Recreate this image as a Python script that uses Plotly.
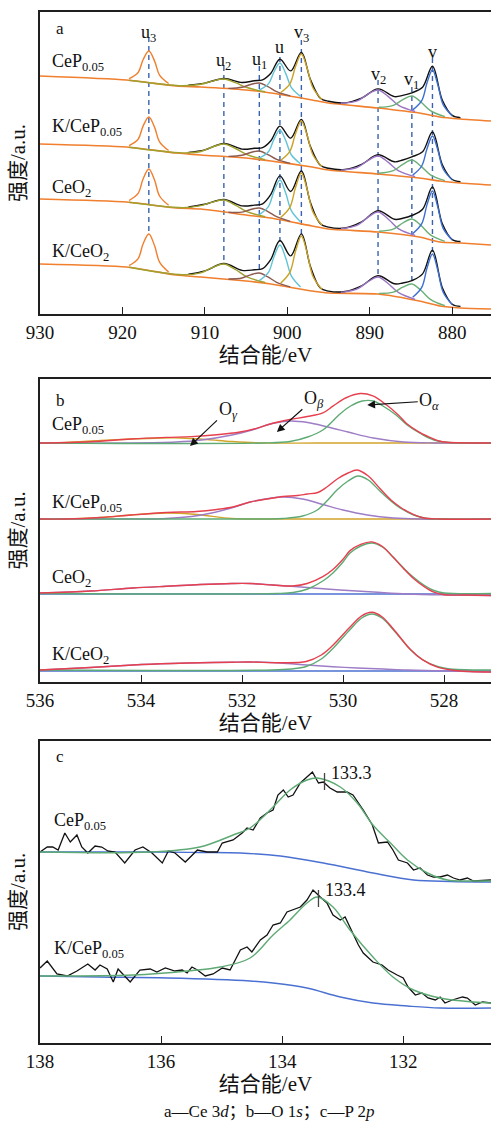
import plotly.graph_objects as go

# ================= Panel a : Ce 3d =================
A_SAMPLES = ["CeP<sub>0.05</sub>", "K/CeP<sub>0.05</sub>", "CeO<sub>2</sub>", "K/CeO<sub>2</sub>"]
A_TICKS = [930, 920, 910, 900, 890, 880]

A_BG_X = [930, 919.5, 913.5, 910.5, 905, 902, 897, 895, 889, 884, 881.5, 879, 875.3]
A_BG_CEP = [238, 234, 228, 227, 224, 221, 214, 211, 206, 201, 197, 195, 193]
A_BG_KCEP = [170, 167, 161, 159, 156, 153, 147, 144, 140, 136, 133, 131, 129]
A_BG_CEO2 = [115, 112, 106, 105, 99, 96, 88, 85, 82, 77, 72, 71, 69]
A_BG_KCEO2 = [50, 47, 39, 37, 33, 30, 23, 21, 20, 13, 8, 6, 5]

A_U3_X = [919.2, 918.1, 917.5, 916.8, 916.1, 915.5, 914.4]
A_U2_X = [919.2, 912.7, 910.5, 909.1, 907.7, 906.3, 904.9, 902.7]
A_U1_X = [907.15, 905.5, 904.45, 903.4, 902.35, 901.3, 899.65]
A_U_X = [903.4, 902.3, 901.6, 900.9, 900.2, 899.5, 898.4]
A_V3_X = [900.8, 899.7, 899.0, 898.3, 897.6, 896.9, 895.8]
A_V2_X = [893.5, 891.5, 890.25, 889.0, 887.75, 886.5, 884.5]
A_V1_X = [888.9, 887.15, 886.0, 884.9, 883.8, 882.65, 880.9]
A_V_X = [884.8, 883.7, 883.05, 882.4, 881.75, 881.1, 880.0]
A_ENV_X = [912, 910, 907.7, 905.5, 904, 903, 902, 900.9, 899.6, 898.3, 897.2, 896, 895,
           893, 891, 889, 887, 886, 884.9, 883.6, 882.4, 881.2, 880, 879]

A_CEP_U3 = [235.3, 241.5, 254.2, 263, 252.9, 238.9, 230.5]
A_CEP_U2 = [233.7, 228.2, 229.7, 232.9, 235, 231.4, 226.5, 222.2]
A_CEP_U1 = [225.6, 226.7, 229.5, 231, 227.4, 222.4, 218.1]
A_CEP_U = [224, 230.1, 242.5, 251, 240.6, 226.3, 217.5]
A_CEP_V3 = [221.5, 230.1, 247.7, 260, 245.8, 226.2, 214.4]
A_CEP_V2 = [210.7, 213.1, 219.7, 224, 217.4, 208.6, 202.5]
A_CEP_V1 = [206.7, 208.7, 214.3, 218, 212, 203.4, 197.3]
A_CEP_V = [204.1, 213.4, 231.4, 244, 229.3, 209.4, 198.1]
A_CEP_ENV = [228.8, 230.9, 235.5, 231.5, 233.3, 234.2, 240.8, 254.8, 243.1, 261.6, 234.4, 215.8, 212.7,
             211.1, 215.9, 225.1, 217.4, 218.6, 221.2, 226.8, 247.8, 213.7, 198.6, 196.4]

A_KCEP_U3 = [168.4, 174.8, 187.9, 197, 186.6, 172.2, 163.5]
A_KCEP_U2 = [166.7, 161.1, 162.5, 167, 170, 165.5, 159.4, 154.3]
A_KCEP_U1 = [157.6, 158.7, 161.5, 163, 159.4, 154.6, 150.6]
A_KCEP_U = [156, 162.3, 175.2, 184, 173.5, 159, 150.3]
A_KCEP_V3 = [153.8, 162.7, 180.5, 193, 178.8, 159.3, 147.4]
A_KCEP_V2 = [143.9, 146.7, 153.4, 158, 151.6, 143.1, 137.4]
A_KCEP_V1 = [140.8, 143.4, 149.7, 154, 147.9, 139.2, 133.4]
A_KCEP_V = [138.9, 148, 165.6, 178, 164, 145, 134]
A_KCEP_ENV = [161.5, 164.1, 170.5, 164.9, 165.7, 166.4, 173.3, 187.9, 175.9, 194.6, 167.4, 148.8, 145.7,
              144.5, 149.6, 159.2, 152.2, 154, 157.2, 162.2, 182, 149.2, 134.5, 132.4]

A_CEO2_U3 = [113.5, 120.6, 135, 145, 133.7, 118, 108.7]
A_CEO2_U2 = [111.7, 106.3, 108.4, 111.9, 114, 108.9, 102.3, 97.3]
A_CEO2_U1 = [101.8, 101.9, 104.5, 106, 102.4, 97.3, 92.7]
A_CEO2_U = [99.4, 107.4, 123.2, 134, 120.9, 103.1, 92.2]
A_CEO2_V3 = [96.6, 106.6, 126.8, 141, 124.6, 102.1, 88.8]
A_CEO2_V2 = [85.3, 88.9, 96.6, 102, 94.8, 85.1, 78.6]
A_CEO2_V1 = [82.7, 84.9, 91, 95, 88.6, 79.1, 72.6]
A_CEO2_V = [80.3, 90.3, 109.6, 123, 106.9, 85.6, 73.9]
A_CEO2_ENV = [107, 109.7, 114.5, 108.1, 108.9, 110.2, 119.6, 138.1, 122.5, 143, 111.5, 90.3, 86.9,
              86, 92.1, 103.2, 94.7, 95.7, 98.5, 104.7, 127, 90.2, 74.4, 72.5]

A_KCEO2_U3 = [48.5, 55.4, 70, 80, 68.2, 51.9, 42]
A_KCEO2_U2 = [46.7, 39.2, 41.2, 46.5, 50, 44.5, 37.1, 31.5]
A_KCEO2_U1 = [35, 36, 39.2, 41, 37.1, 31.7, 27.2]
A_KCEO2_U = [33.4, 41.6, 57.8, 69, 55.9, 37.8, 27]
A_KCEO2_V3 = [31, 41.7, 63, 78, 61.1, 37.8, 24.5]
A_KCEO2_V2 = [21.6, 25.2, 32.1, 37, 30.2, 21.3, 14.6]
A_KCEO2_V1 = [20.6, 21.8, 26.8, 30, 23.7, 14.7, 8.3]
A_KCEO2_V = [16.7, 26.6, 46.3, 60, 43.6, 21.7, 9.3]
A_KCEO2_ENV = [39.8, 43.1, 50.5, 43.6, 44.2, 45.4, 54.7, 73.5, 58.1, 80.1, 47.5, 25.9, 22.9,
               22.5, 28.2, 38.2, 30.2, 31, 33.4, 40.1, 63.7, 26.3, 9.8, 7.6]

A_PEAK_NAMES = ["u<sub>3</sub>", "u<sub>2</sub>", "u<sub>1</sub>", "u",
                "v<sub>3</sub>", "v<sub>2</sub>", "v<sub>1</sub>", "v"]
A_PEAK_POS = [916.8, 907.7, 903.4, 900.9, 898.3, 889.0, 884.9, 882.4]
A_PEAK_LINE_TOP = [277, 248, 248, 257, 274, 234, 227, 256]
A_PEAK_LINE_BOTTOM = [80, 50, 41, 69, 78, 37, 30, 60]

# ================= Panel b : O 1s =================
B_SAMPLES = ["CeP<sub>0.05</sub>", "K/CeP<sub>0.05</sub>", "CeO<sub>2</sub>", "K/CeO<sub>2</sub>"]
B_TICKS = [536, 534, 532, 530, 528]

B_CEP_GOLD_X = [536, 535.5, 534.8, 534.2, 533.6, 533.2, 532.7, 532.2, 531.6, 530.5, 529, 527.07]
B_CEP_GOLD_Y = [239, 239.5, 241.5, 243, 244, 244, 242.5, 240.5, 239, 239, 239, 239]
B_CEP_PURPLE_X = [536, 534.3, 533.3, 532.8, 532.2, 531.8, 531.4, 531.05, 530.7, 530.3, 529.9, 529.4, 528.8, 528.2, 527.07]
B_CEP_PURPLE_Y = [239, 239, 240, 242, 247, 252, 258.5, 261, 259.5, 255, 250, 244, 240, 239, 239]
B_CEP_GREEN_X = [536, 531.6, 531.05, 530.7, 530.4, 530.06, 529.85, 529.62, 529.4, 529.21, 528.95, 528.73, 528.45, 528.2, 527.9, 527.07]
B_CEP_GREEN_Y = [239, 239, 240.5, 245, 252, 268, 276, 281, 281, 276, 267, 257, 248, 242, 239.5, 239]
B_CEP_RED_X = [536, 535, 534.2, 533.5, 533, 532.5, 532.04, 531.7, 531.39, 531.05, 530.71, 530.4, 530.2,
               529.95, 529.66, 529.41, 529.13, 528.9, 528.73, 528.5, 528.34, 528.1, 527.94, 527.07]
B_CEP_RED_Y = [239, 240.3, 243, 244.6, 245.4, 247.2, 250, 253.9, 258.8, 262.5, 265.5, 269.1, 275.8,
               284, 288.5, 286.1, 276.7, 266.8, 258, 250.1, 246, 241, 239.7, 239]

B_KCEP_GOLD_X = [536, 535.5, 534.8, 534.2, 533.5, 532.9, 532.2, 531.5, 530, 527.07]
B_KCEP_GOLD_Y = [163, 163, 164.5, 167, 169, 167.5, 163.5, 163, 163, 163]
B_KCEP_PURPLE_X = [536, 534, 533.5, 533, 532.6, 532.18, 531.8, 531.19, 530.8, 530.4, 530, 529.52, 529, 528.5, 527.07]
B_KCEP_PURPLE_Y = [163, 163, 163.5, 165.5, 169, 174.5, 180.5, 185, 183, 177.5, 172, 167, 164, 163, 163]
B_KCEP_GREEN_X = [536, 531.5, 531.19, 530.8, 530.51, 530.3, 530.12, 529.9, 529.7, 529.5, 529.27, 529.05, 528.87, 528.6, 528.34, 528, 527.07]
B_KCEP_GREEN_Y = [163, 163, 163.5, 166, 172, 182, 192, 201, 206, 202, 191, 181, 174, 167, 163.5, 163, 163]
B_KCEP_RED_X = [536, 535.5, 534.8, 534.2, 533.49, 532.9, 532.5, 532.18, 531.84, 531.5, 531.19, 530.9, 530.71,
                530.5, 530.32, 530.1, 529.9, 529.72, 529.5, 529.27, 529.05, 528.87, 528.6, 528.4, 528.08, 527.07]
B_KCEP_RED_Y = [163, 163, 164.5, 167, 169.5, 170.5, 172.5, 175, 180, 183, 185.5, 186.5, 188,
                189.5, 195, 203.5, 209, 212, 206, 193.5, 182, 175, 167.3, 164, 163, 163]

B_CEO2_PURPLE_X = [536, 535, 534.16, 533.4, 532.83, 532.2, 531.84, 531.39, 530.71, 530.06, 529.4, 528.73, 527.9, 527.07]
B_CEO2_PURPLE_Y = [89, 91, 94, 96, 97.5, 98.5, 98.5, 97, 94.5, 92, 90, 88, 87, 86.5]
B_CEO2_GREEN_X = [536, 531.3, 530.99, 530.7, 530.4, 530.2, 530.0, 529.86, 529.65, 529.43, 529.22, 529.01, 528.8, 528.61, 528.4, 528.2, 528.0, 527.07]
B_CEO2_GREEN_Y = [88.5, 88.5, 89.5, 93, 101, 109, 120, 129, 136, 139, 135, 125, 114, 105, 97, 91.5, 89, 88.5]
B_CEO2_BLUE_X = [536, 527.07]
B_CEO2_BLUE_Y = [88, 88]
B_CEO2_RED_X = [536, 535, 534.16, 533.4, 532.83, 532.2, 531.84, 531.39, 531.0, 530.71, 530.4, 530.2, 530.0,
                529.86, 529.65, 529.43, 529.22, 529.01, 528.8, 528.61, 528.4, 528.2, 528.0, 527.6, 527.07]
B_CEO2_RED_Y = [89, 91, 94, 96, 97.5, 98.5, 98.5, 97, 96, 98.5, 105.4, 112.5, 122.8,
                131.4, 137.7, 140.1, 135.5, 124.9, 113.3, 103.8, 95.6, 89.8, 87.2, 87, 86.5]

B_KCEO2_PURPLE_X = [536, 535, 534.16, 533.4, 532.83, 532.2, 531.84, 531.25, 530.71, 530.2, 529.72, 529.2, 528.73, 527.9, 527.07]
B_KCEO2_PURPLE_Y = [12, 14.5, 17, 18.5, 19.2, 19.8, 20, 19, 17, 15.3, 14, 13, 12, 11, 10]
B_KCEO2_GREEN_X = [536, 531.4, 531.03, 530.73, 530.43, 530.2, 529.86, 529.63, 529.43, 529.23, 529.0, 528.66, 528.43, 528.13, 527.83, 527.07]
B_KCEO2_GREEN_Y = [12, 12, 13, 15.5, 23, 33.5, 52.5, 64, 68, 64, 52, 32, 22.5, 15.5, 12.8, 12]
B_KCEO2_BLUE_X = [536, 527.07]
B_KCEO2_BLUE_Y = [11, 11]
B_KCEO2_RED_X = [536, 535, 534.16, 533.4, 532.83, 532.2, 531.84, 531.25, 530.73, 530.43, 530.2, 529.86,
                 529.63, 529.43, 529.23, 529.0, 528.66, 528.43, 528.13, 527.83, 527.5, 527.07]
B_KCEO2_RED_Y = [12, 14.5, 17, 18.5, 19.2, 19.8, 20, 19.3, 20.5, 27, 36.8, 55,
                 66.2, 69.7, 65.3, 52.8, 32.2, 22.3, 14.8, 11.8, 10.5, 10]

# ================= Panel c : P 2p =================
C_SAMPLES = ["CeP<sub>0.05</sub>", "K/CeP<sub>0.05</sub>"]
C_TICKS = [138, 136, 134, 132]
C_PEAKS = [133.3, 133.4]

C_CEP_RAW_X = [138.00, 137.88, 137.79, 137.70, 137.59, 137.50, 137.39, 137.31, 137.21, 137.09, 136.98, 136.88,
               136.76, 136.60, 136.43, 136.30, 136.15, 135.98, 135.88, 135.77, 135.60, 135.40, 135.24, 135.07,
               134.99, 134.81, 134.66, 134.58, 134.48, 134.36, 134.25, 134.15, 134.07, 133.98, 133.90, 133.82,
               133.70, 133.59, 133.50, 133.40, 133.32, 133.21, 133.09, 132.93, 132.83, 132.66, 132.51, 132.41,
               132.26, 132.17, 132.08, 131.93, 131.83, 131.72, 131.60, 131.50, 131.39, 131.27, 131.17, 131.06,
               130.94, 130.84, 130.55]
C_CEP_RAW_Y = [191, 196, 196, 193, 210, 201, 208, 196, 190, 197, 196, 192,
               191, 180, 193, 196, 190, 180, 192, 190, 181, 193, 191, 191,
               200, 203, 210, 215, 213, 225, 230, 233, 248, 253, 246, 248,
               260, 266, 271, 260, 261, 255, 251, 251, 248, 233, 218, 200,
               201, 193, 183, 180, 173, 175, 168, 166, 166, 168, 165, 163,
               165, 162, 163]
C_CEP_FIT_X = [138.0, 136.18, 135.36, 134.81, 134.53, 134.15, 133.87, 133.59, 133.42, 133.04, 132.76,
               132.50, 132.21, 131.93, 131.60, 131.27, 130.89, 130.55]
C_CEP_FIT_Y = [191, 191, 196, 208, 215, 236, 253, 263, 265, 256, 240, 218, 200, 183, 170, 163, 162, 162]
C_CEP_BG_X = [138.0, 136.18, 135.36, 134.69, 134.03, 133.32, 132.50, 131.83, 131.22, 130.55]
C_CEP_BG_Y = [191, 191, 190.5, 190, 187, 180, 170, 163, 161.5, 161]

C_KCEP_RAW_X = [138.00, 137.88, 137.72, 137.55, 137.39, 137.21, 137.09, 137.01, 136.89, 136.79, 136.71, 136.60,
                136.51, 136.35, 136.18, 136.07, 135.93, 135.77, 135.65, 135.57, 135.49, 135.40, 135.27, 135.14,
                134.99, 134.86, 134.78, 134.69, 134.58, 134.50, 134.36, 134.25, 134.15, 134.03, 133.92, 133.82,
                133.70, 133.59, 133.49, 133.37, 133.26, 133.16, 133.04, 132.96, 132.84, 132.74, 132.66, 132.50,
                132.35, 132.25, 132.10, 132.00, 131.92, 131.80, 131.69, 131.59, 131.47, 131.39, 131.31, 131.19,
                131.02, 130.94, 130.81, 130.69, 130.55]
C_KCEP_RAW_Y = [75, 82, 69, 67, 72, 79, 73, 78, 74, 61, 74, 67,
                61, 73, 74, 71, 75, 72, 73, 70, 76, 73, 67, 69,
                75, 73, 83, 93, 96, 91, 103, 108, 118, 120, 131, 133,
                136, 143, 153, 146, 140, 128, 123, 126, 111, 98, 90, 81,
                78, 73, 68, 65, 56, 48, 50, 45, 43, 46, 40, 43,
                46, 45, 38, 41, 40]
C_KCEP_FIT_X = [138.0, 136.46, 135.57, 135.02, 134.53, 134.15, 133.87, 133.59, 133.42, 133.16, 132.88,
                132.50, 132.17, 131.83, 131.39, 130.84, 130.55]
C_KCEP_FIT_Y = [67, 68, 72, 76, 85, 108, 123, 140, 146, 136, 113, 86, 66, 53, 45, 41, 40]
C_KCEP_BG_X = [138.0, 137.01, 135.90, 134.53, 134.15, 133.59, 133.04, 132.50, 131.93, 131.39, 130.55]
C_KCEP_BG_Y = [67, 66, 65, 62, 60, 55, 46, 40, 37, 35, 35]
C_PEAK_MARK_TOP = [270, 153]
C_PEAK_MARK_BOTTOM = [253, 136]

# ================= styling =================
SERIF = "Liberation Serif, Times New Roman, Noto Sans CJK SC, serif"
AX = "#1f1f1f"
COL = dict(bg="#F07F2E", u3="#F07F2E", u2="#A0A02E", u1="#8C5A4E", u="#62C3D6",
           v3="#C9A227", v2="#9B74C4", v1="#6BAF76", v="#3C6ED2", env="#111111",
           dash="#3A62B0", red="#E6404F", green="#5EAA74", purple="#9E7CC6",
           gold="#D2A428", blue="#4A70D2")

fig = go.Figure()


def add_line(xs, ys, color, xa, ya, width=1.4, shape="spline", dash=None, smoothing=1.0):
    fig.add_trace(go.Scatter(x=xs, y=ys, mode="lines",
                             line=dict(color=color, width=width, shape=shape, dash=dash,
                                       smoothing=smoothing if shape == "spline" else None),
                             xaxis=xa, yaxis=ya, hoverinfo="skip", showlegend=False))


# ---- panel a traces ----
a_sets = [
    (A_BG_CEP, A_CEP_ENV, [A_CEP_U2, A_CEP_U1, A_CEP_U, A_CEP_V3, A_CEP_V2, A_CEP_V1, A_CEP_V, A_CEP_U3]),
    (A_BG_KCEP, A_KCEP_ENV, [A_KCEP_U2, A_KCEP_U1, A_KCEP_U, A_KCEP_V3, A_KCEP_V2, A_KCEP_V1, A_KCEP_V, A_KCEP_U3]),
    (A_BG_CEO2, A_CEO2_ENV, [A_CEO2_U2, A_CEO2_U1, A_CEO2_U, A_CEO2_V3, A_CEO2_V2, A_CEO2_V1, A_CEO2_V, A_CEO2_U3]),
    (A_BG_KCEO2, A_KCEO2_ENV, [A_KCEO2_U2, A_KCEO2_U1, A_KCEO2_U, A_KCEO2_V3, A_KCEO2_V2, A_KCEO2_V1, A_KCEO2_V, A_KCEO2_U3]),
]
comp_x = [A_U2_X, A_U1_X, A_U_X, A_V3_X, A_V2_X, A_V1_X, A_V_X, A_U3_X]
comp_c = [COL["u2"], COL["u1"], COL["u"], COL["v3"], COL["v2"], COL["v1"], COL["v"], COL["u3"]]

for pos, top, bot in zip(A_PEAK_POS, A_PEAK_LINE_TOP, A_PEAK_LINE_BOTTOM):
    add_line([pos, pos], [top, bot], COL["dash"], "x", "y", width=1.4, shape="linear", dash="5px,4px")

for bg, env, comps in a_sets:
    add_line(A_BG_X, bg, COL["bg"], "x", "y", width=1.6, smoothing=0.6)
    add_line(A_ENV_X, env, COL["env"], "x", "y", width=1.4)
    for xs, ys, c in zip(comp_x, comps, comp_c):
        add_line(xs, ys, c, "x", "y", width=1.4)

# ---- panel b traces ----
b_sets = [
    [(B_CEP_GOLD_X, B_CEP_GOLD_Y, COL["gold"]), (B_CEP_PURPLE_X, B_CEP_PURPLE_Y, COL["purple"]),
     (B_CEP_GREEN_X, B_CEP_GREEN_Y, COL["green"]), (B_CEP_RED_X, B_CEP_RED_Y, COL["red"])],
    [(B_KCEP_GOLD_X, B_KCEP_GOLD_Y, COL["gold"]), (B_KCEP_PURPLE_X, B_KCEP_PURPLE_Y, COL["purple"]),
     (B_KCEP_GREEN_X, B_KCEP_GREEN_Y, COL["green"]), (B_KCEP_RED_X, B_KCEP_RED_Y, COL["red"])],
    [(B_CEO2_BLUE_X, B_CEO2_BLUE_Y, COL["blue"]), (B_CEO2_PURPLE_X, B_CEO2_PURPLE_Y, COL["purple"]),
     (B_CEO2_GREEN_X, B_CEO2_GREEN_Y, COL["green"]), (B_CEO2_RED_X, B_CEO2_RED_Y, COL["red"])],
    [(B_KCEO2_BLUE_X, B_KCEO2_BLUE_Y, COL["blue"]), (B_KCEO2_PURPLE_X, B_KCEO2_PURPLE_Y, COL["purple"]),
     (B_KCEO2_GREEN_X, B_KCEO2_GREEN_Y, COL["green"]), (B_KCEO2_RED_X, B_KCEO2_RED_Y, COL["red"])],
]
for group in b_sets:
    for xs, ys, c in group:
        add_line(xs, ys, c, "x2", "y2", width=1.4)

# ---- panel c traces ----
for bgx, bgy, fx, fy, rx, ry in [
    (C_CEP_BG_X, C_CEP_BG_Y, C_CEP_FIT_X, C_CEP_FIT_Y, C_CEP_RAW_X, C_CEP_RAW_Y),
    (C_KCEP_BG_X, C_KCEP_BG_Y, C_KCEP_FIT_X, C_KCEP_FIT_Y, C_KCEP_RAW_X, C_KCEP_RAW_Y),
]:
    add_line(bgx, bgy, COL["blue"], "x3", "y3", width=1.4)
    add_line(rx, ry, COL["env"], "x3", "y3", width=1.3, shape="linear")
    add_line(fx, fy, COL["green"], "x3", "y3", width=1.4)

for pk, t, b in zip(C_PEAKS, C_PEAK_MARK_TOP, C_PEAK_MARK_BOTTOM):
    add_line([pk, pk], [t, b], "#444444", "x3", "y3", width=1.3, shape="linear")

# ---- annotations ----
ann = []
TXT = dict(family=SERIF, size=18, color="#111111")

# panel letters
ann.append(dict(x=927.6, y=286, xref="x", yref="y", text="a", showarrow=False, font=dict(family=SERIF, size=17, color="#111")))
ann.append(dict(x=535.6, y=282, xref="x2", yref="y2", text="b", showarrow=False, font=dict(family=SERIF, size=17, color="#111")))
ann.append(dict(x=137.67, y=286, xref="x3", yref="y3", text="c", showarrow=False, font=dict(family=SERIF, size=17, color="#111")))

# sample labels panel a
for name, yv in zip(A_SAMPLES, [252, 187, 126, 62]):
    ann.append(dict(x=928.8, y=yv, xref="x", yref="y", text=name, showarrow=False,
                    xanchor="left", yanchor="middle", font=TXT))
# peak labels panel a
for name, pos, yv in zip(A_PEAK_NAMES, A_PEAK_POS, [281, 253, 254, 267, 281, 239, 234, 262]):
    ann.append(dict(x=pos, y=yv, xref="x", yref="y", text=name, showarrow=False,
                    xanchor="center", yanchor="middle", font=dict(family=SERIF, size=18, color="#111")))

# sample labels panel b
for name, yv in zip(B_SAMPLES, [257, 179, 104, 27]):
    ann.append(dict(x=535.8, y=yv, xref="x2", yref="y2", text=name, showarrow=False,
                    xanchor="left", yanchor="middle", font=TXT))
# arrows panel b
for txt, x, y, ax, ay in [("O<sub><i>γ</i></sub>", 533.03, 236, 38, -36),
                          ("O<sub><i>β</i></sub>", 531.31, 250, 37, -33),
                          ("O<sub><i>α</i></sub>", 529.52, 277, 62, -4)]:
    ann.append(dict(x=x, y=y, xref="x2", yref="y2", text=txt, showarrow=True, ax=ax, ay=ay,
                    arrowhead=2, arrowsize=1.3, arrowwidth=1.2, arrowcolor="#111",
                    font=dict(family=SERIF, size=18, color="#111"), xanchor="center", yanchor="middle"))

# sample labels panel c
for name, yv in zip(C_SAMPLES, [221, 93]):
    ann.append(dict(x=137.8, y=yv, xref="x3", yref="y3", text=name, showarrow=False,
                    xanchor="left", yanchor="middle", font=TXT))
# peak value labels panel c
for pk, yv in zip(C_PEAKS, C_PEAK_MARK_TOP):
    ann.append(dict(x=pk - 0.08, y=yv, xref="x3", yref="y3", text=f"{pk:.1f}", showarrow=False,
                    xanchor="left", yanchor="middle", font=TXT))

# y titles
for yc in [0.8535, 0.4971, 0.1465]:
    ann.append(dict(x=-0.0488, y=yc, xref="paper", yref="paper", text="强度/a.u.", showarrow=False,
                    textangle=-90, xanchor="center", yanchor="middle",
                    font=dict(family=SERIF, size=21, color="#111")))

# caption
ann.append(dict(x=0.5078, y=-0.0669, xref="paper", yref="paper",
                text="a—Ce 3<i>d</i>；b—O 1<i>s</i>；c—P 2<i>p</i>", showarrow=False,
                xanchor="center", yanchor="middle", font=dict(family=SERIF, size=17, color="#111")))


def xaxis(rng, ticks, anchor):
    return dict(range=rng, tickvals=ticks, anchor=anchor, domain=[0, 1],
                showline=True, linecolor=AX, linewidth=1.5, mirror=True,
                ticks="inside", ticklen=7, tickwidth=1.2, tickcolor=AX,
                showgrid=False, zeroline=False,
                tickfont=dict(family=SERIF, size=19, color="#111"),
                title=dict(text="结合能/eV", font=dict(family=SERIF, size=21, color="#111"), standoff=2))


def yaxis(dom, rng, anchor):
    return dict(domain=dom, range=rng, anchor=anchor, showline=True, linecolor=AX, linewidth=1.5,
                mirror=False, ticks="", showticklabels=False, showgrid=False, zeroline=False)


fig.update_layout(
    width=491, height=1131,
    margin=dict(l=40, r=0, t=12, b=88),
    paper_bgcolor="white", plot_bgcolor="white",
    showlegend=False,
    xaxis=xaxis([930, 875.3], A_TICKS, "y"),
    yaxis=yaxis([0.70708, 1.0], [0, 302], "x"),
    xaxis2=xaxis([536, 527.07], B_TICKS, "y2"),
    yaxis2=yaxis([0.35014, 0.64403], [0, 303], "x2"),
    xaxis3=xaxis([138, 130.55], C_TICKS, "y3"),
    yaxis3=yaxis([0, 0.29292], [0, 302], "x3"),
    annotations=ann,
)

fig.write_html("out.html")
